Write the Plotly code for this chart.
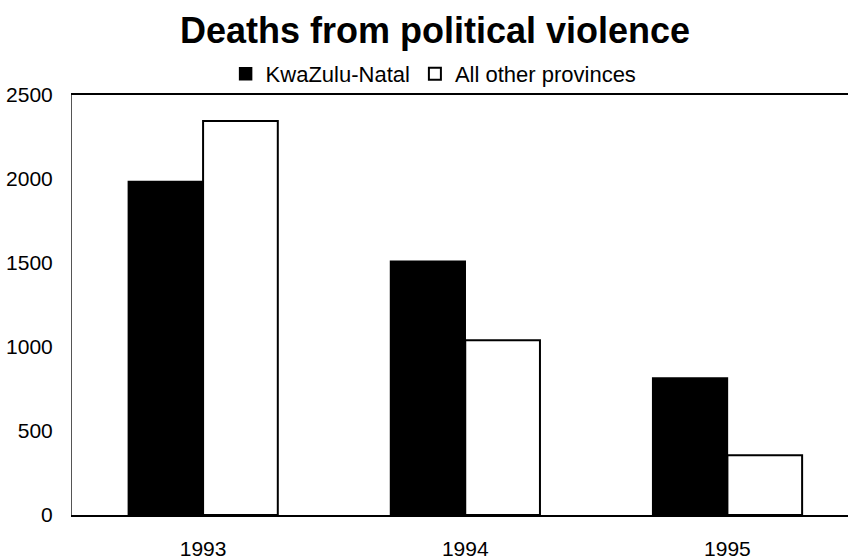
import plotly.graph_objects as go

years = ["1993", "1994", "1995"]
kzn = [1985, 1510, 815]
others = [2345, 1040, 355]
y_ticks = [0, 500, 1000, 1500, 2000, 2500]

FONT = "Liberation Sans, Arial, sans-serif"

fig = go.Figure()
fig.add_trace(go.Bar(x=years, y=kzn, name="KwaZulu-Natal",
                     marker=dict(color="black", line=dict(color="black", width=1.5))))
fig.add_trace(go.Bar(x=years, y=others, name="All other provinces",
                     marker=dict(color="white", line=dict(color="black", width=2))))

fig.update_layout(
    width=848, height=560,
    margin=dict(l=72, r=0, t=95, b=43),
    paper_bgcolor="white", plot_bgcolor="white",
    barmode="group", bargap=0.43, bargroupgap=0,
    font=dict(family=FONT, color="black", size=20),
    title=dict(text="<b>Deaths from political violence</b>", x=0.513, xanchor="center",
               y=0.945, yanchor="middle", font=dict(size=36, family=FONT)),
    legend=dict(orientation="h", x=0.466, xanchor="center", y=1.0, yanchor="bottom",
                font=dict(size=22), itemwidth=30, tracegroupgap=0,
                bgcolor="rgba(0,0,0,0)"),
    showlegend=True,
)
fig.update_xaxes(type="category", range=[-0.5, 2.46], showline=True, mirror=True,
                 linecolor="black", linewidth=1.5, ticks="", showgrid=False,
                 ticklabelstandoff=14, tickfont=dict(size=21))
fig.update_yaxes(range=[0, 2500], tickvals=y_ticks, showline=True, linecolor="#555",
                 linewidth=1, ticks="", showgrid=False, zeroline=False,
                 ticklabelstandoff=14, tickfont=dict(size=21))

fig.write_html("out.html")
